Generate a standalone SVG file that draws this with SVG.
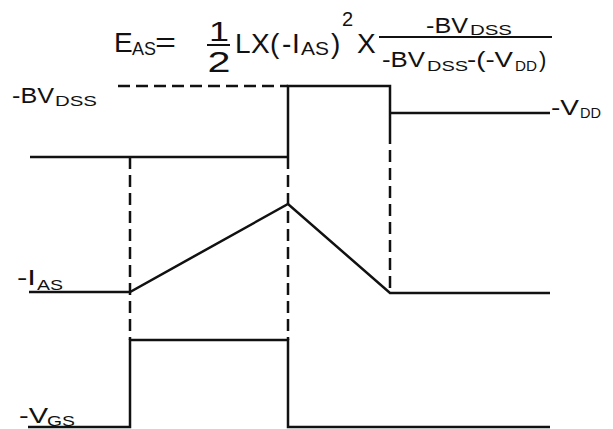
<svg xmlns="http://www.w3.org/2000/svg" width="613" height="429" viewBox="0 0 613 429">
<style>
text{font-family:"Liberation Sans",Arial,sans-serif;fill:#111}
.m{font-size:28px}
.s{font-size:19px}
.l{font-size:22px}
.ls{font-size:15px}
.w{stroke:#111;stroke-width:2.5;fill:none}
.d{stroke:#111;stroke-width:2.5;fill:none;stroke-dasharray:12 6}
</style>
<rect width="613" height="429" fill="#fff"/>
<g id="formula">
<text class="m" x="114" y="52">E</text>
<text class="s" x="132" y="55" textLength="24" lengthAdjust="spacingAndGlyphs">AS</text>
<text class="m" x="155" y="52" textLength="21" lengthAdjust="spacingAndGlyphs">=</text>
<text x="219" y="41" text-anchor="middle" font-size="27" textLength="20" lengthAdjust="spacingAndGlyphs">1</text>
<line x1="207" y1="45" x2="230" y2="45" stroke="#111" stroke-width="2"/>
<text x="219" y="72" text-anchor="middle" font-size="30" textLength="23" lengthAdjust="spacingAndGlyphs">2</text>
<text class="m" x="235" y="53">L</text>
<text class="m" x="251" y="53">X</text>
<text class="m" x="270" y="53">(</text>
<text class="m" x="282" y="53">-</text>
<text class="m" x="292" y="53">I</text>
<text class="s" x="301" y="55" textLength="28" lengthAdjust="spacingAndGlyphs">AS</text>
<text class="m" x="331" y="53">)</text>
<text x="342" y="26" font-size="20">2</text>
<text class="m" x="357" y="53">X</text>
<line x1="379" y1="37" x2="552" y2="37" stroke="#111" stroke-width="2"/>
<text class="l" x="426" y="33" textLength="42" lengthAdjust="spacingAndGlyphs">-BV</text>
<text class="ls" x="470" y="35" textLength="42" lengthAdjust="spacingAndGlyphs">DSS</text>
<text class="l" x="382" y="67" textLength="43" lengthAdjust="spacingAndGlyphs">-BV</text>
<text class="ls" x="427" y="71" textLength="41" lengthAdjust="spacingAndGlyphs">DSS</text>
<text class="l" x="467" y="67" textLength="46" lengthAdjust="spacingAndGlyphs">-(-V</text>
<text class="ls" x="515" y="71" textLength="22" lengthAdjust="spacingAndGlyphs">DD</text>
<text class="l" x="539" y="67">)</text>
</g>
<g id="label-bvdss">
<text class="l" x="12" y="103" textLength="42" lengthAdjust="spacingAndGlyphs">-BV</text>
<text class="ls" x="55" y="106" textLength="42" lengthAdjust="spacingAndGlyphs">DSS</text>
</g>
<g id="label-vdd">
<text class="l" x="551" y="115" textLength="28" lengthAdjust="spacingAndGlyphs">-V</text>
<text class="ls" x="580" y="118" textLength="21" lengthAdjust="spacingAndGlyphs">DD</text>
</g>
<g id="label-ias">
<text class="l" x="17" y="285" textLength="19" lengthAdjust="spacingAndGlyphs">-I</text>
<text class="ls" x="37" y="290" textLength="26" lengthAdjust="spacingAndGlyphs">AS</text>
</g>
<g id="label-vgs">
<text class="l" x="19" y="423" textLength="29" lengthAdjust="spacingAndGlyphs">-V</text>
<text class="ls" x="47" y="426" textLength="28" lengthAdjust="spacingAndGlyphs">GS</text>
</g>
<g id="connectors">
<line class="d" x1="118" y1="86" x2="288" y2="86"/>
<polyline class="w" points="288,157 288,86 390,86 390,132"/>
<line class="d" x1="390" y1="132" x2="390" y2="293"/>
<line class="w" x1="390" y1="113" x2="550" y2="113"/>
<line class="w" x1="30" y1="157" x2="288" y2="157"/>
<line class="d" x1="130" y1="157" x2="130" y2="340"/>
<line class="d" x1="288" y1="157" x2="288" y2="340"/>
<polyline class="w" points="29,292 130,292 288,204 390,293 550,293"/>
<polyline class="w" points="28,427 130,427 130,340 288,340 288,427 550,427"/>
</g>
</svg>
